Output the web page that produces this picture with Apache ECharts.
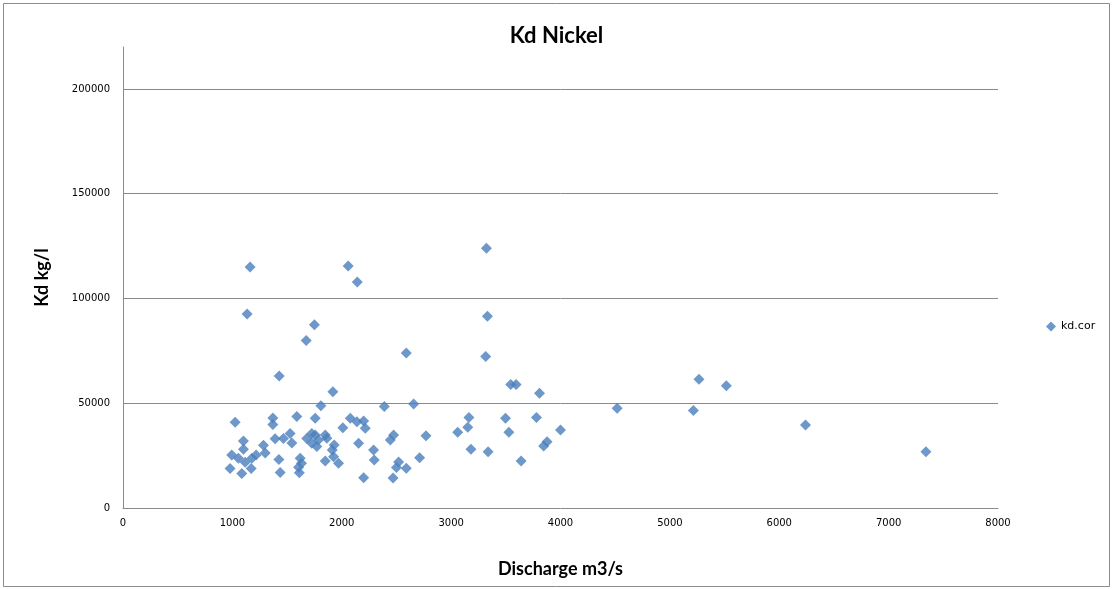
<!DOCTYPE html>
<html>
<head>
<meta charset="utf-8">
<title>Kd Nickel</title>
<script src="https://cdn.jsdelivr.net/npm/echarts@6/dist/echarts.min.js"></script>
<style>
  html, body { margin: 0; padding: 0; background: #ffffff; }
  #chart { width: 1113px; height: 589px; }
</style>
</head>
<body>
<div id="chart"></div>
<script>
// Discharge (m3/s) and the matching Kd (kg/l) for each sample
const discharge = [
  979, 994, 1025, 1055, 1086, 1101, 1101, 1117, 1135, 1162,
  1178, 1172, 1217, 1284, 1300, 1370, 1370, 1391, 1425, 1437,
  1428, 1467, 1528, 1544, 1589, 1620, 1632, 1605, 1612, 1680,
  1675, 1750, 1726, 1726, 1757, 1757, 1787, 1772, 1809, 1849,
  1864, 1849, 1913, 1931, 1919, 1925, 1971, 2010, 2059, 2142,
  2078, 2139, 2200, 2215, 2154, 2200, 2291, 2297, 2389, 2474,
  2444, 2469, 2520, 2500, 2590, 2590, 2657, 2712, 2770, 3060,
  3152, 3163, 3181, 3323, 3332, 3316, 3338, 3497, 3528, 3545,
  3594, 3640, 3780, 3808, 3877, 3846, 4000, 4518, 5215, 5266,
  5516, 6240, 7341
];
const kd = [
  18800, 25300, 40900, 23700, 16500, 32000, 28000, 21800, 92600, 115000,
  23700, 18800, 25300, 30000, 26200, 43000, 39900, 33000, 23200, 17000,
  63000, 33200, 35600, 31000, 43700, 23700, 21300, 19500, 16800, 33200,
  79900, 87400, 30900, 35600, 34800, 42800, 32400, 29300, 48800, 34800,
  33300, 22400, 27700, 30100, 55500, 24500, 21300, 38300, 115500, 107900,
  42800, 41200, 41500, 38000, 30900, 14400, 27700, 22900, 48400, 34800,
  32400, 14300, 22000, 19300, 19000, 74000, 49600, 24000, 34500, 36100,
  38500, 43200, 28000, 124000, 91500, 72300, 26900, 42800, 36100, 58900,
  58900, 22400, 43200, 54800, 31600, 29600, 37200, 47600, 46500, 61500,
  58300, 39600, 26900
];

const xTicks = [0, 1000, 2000, 3000, 4000, 5000, 6000, 7000, 8000];
const yTicks = [0, 50000, 100000, 150000, 200000];
const seriesName = 'kd.cor';

const points = discharge.map((x, i) => [x, kd[i]]);

const chart = echarts.init(document.getElementById('chart'), null, { renderer: 'canvas' });

const axisGrey = '#8a8a8a';
const labelFont = 'DejaVu Sans';
const headFont = 'Lato';

chart.setOption({
  animation: false,
  backgroundColor: '#ffffff',
  title: {
    text: 'Kd Nickel',
    left: 'center',
    top: 20,
    textStyle: { fontFamily: headFont, fontWeight: 'bold', fontSize: 22, color: '#000000' }
  },
  legend: {
    data: [{ name: seriesName, icon: 'diamond' }],
    orient: 'vertical',
    left: 1041,
    top: 316,
    itemWidth: 10,
    itemHeight: 10,
    itemGap: 4,
    textStyle: { fontFamily: labelFont, fontSize: 11, color: '#000000' }
  },
  grid: { left: 123, right: 115, top: 47, bottom: 81, containLabel: false },
  xAxis: {
    type: 'value',
    min: xTicks[0],
    max: xTicks[xTicks.length - 1],
    interval: 1000,
    name: 'Discharge m3/s',
    nameLocation: 'middle',
    nameGap: 52,
    nameTextStyle: { fontFamily: headFont, fontWeight: 'bold', fontSize: 18, color: '#000000' },
    axisLine: { show: true, lineStyle: { color: axisGrey, width: 1 } },
    axisTick: { show: false },
    splitLine: { show: false },
    axisLabel: {
      fontFamily: labelFont, fontSize: 10, color: '#000000', margin: 10,
      formatter: v => (xTicks.indexOf(v) >= 0 ? String(v) : '')
    }
  },
  yAxis: {
    type: 'value',
    min: 0,
    max: 220000,
    interval: 50000,
    name: 'Kd kg/l',
    nameLocation: 'middle',
    nameGap: 72,
    nameRotate: 90,
    nameTextStyle: { fontFamily: headFont, fontWeight: 'bold', fontSize: 18, color: '#000000', padding: [0, 0, 0, 0] },
    axisLine: { show: true, lineStyle: { color: axisGrey, width: 1 } },
    axisTick: { show: false },
    splitLine: { show: true, showMaxLine: false, showMinLine: false, lineStyle: { color: axisGrey, width: 1 } },
    axisLabel: {
      fontFamily: labelFont, fontSize: 10, color: '#000000', margin: 13,
      showMaxLabel: false,
      formatter: v => (yTicks.indexOf(v) >= 0 ? String(v) : '')
    }
  },
  graphic: [
    {
      type: 'rect',
      shape: { x: 3.5, y: 3.5, width: 1106, height: 583 },
      style: { fill: null, stroke: '#8c8c8c', lineWidth: 1 },
      silent: true,
      z: -1
    }
  ],
  series: [
    {
      name: seriesName,
      type: 'scatter',
      symbol: 'diamond',
      symbolSize: 11,
      itemStyle: { color: '#4a7ebb' },
      data: points
    }
  ]
});
</script>
</body>
</html>
